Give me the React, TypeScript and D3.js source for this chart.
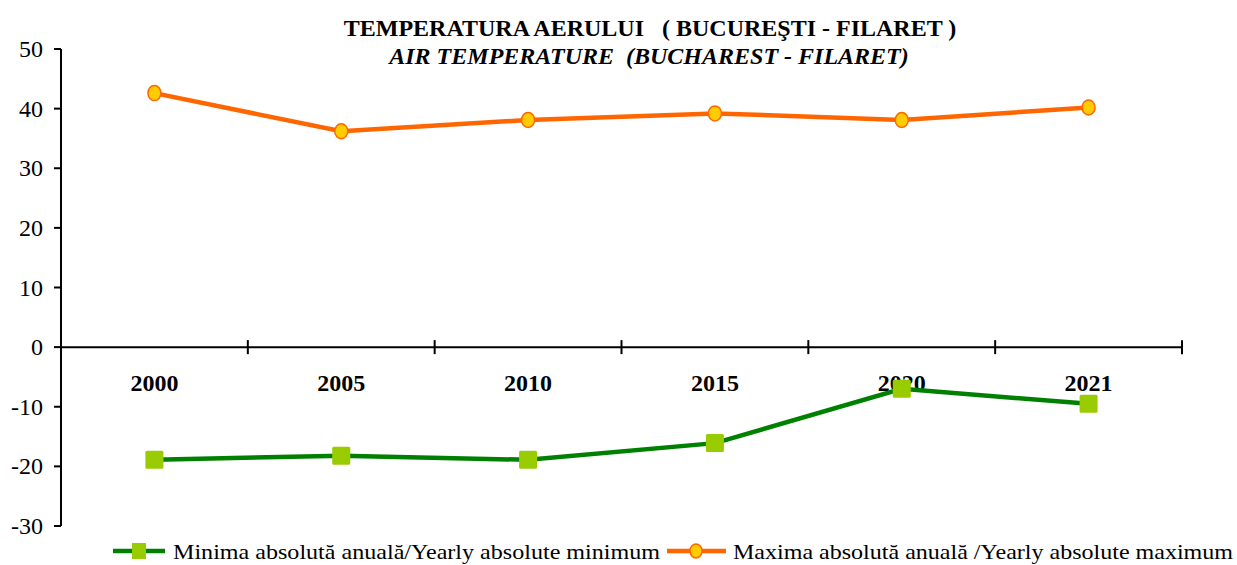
import * as d3 from "d3";
import { useRef, useEffect } from "react";

const years = ["2000", "2005", "2010", "2015", "2020", "2021"];
const minValues = [-18.9, -18.2, -18.9, -16.1, -7.0, -9.5];
const maxValues = [42.6, 36.2, 38.1, 39.2, 38.1, 40.2];
const yTicks = [50, 40, 30, 20, 10, 0, -10, -20, -30];

const titleLine1 = "TEMPERATURA AERULUI   ( BUCUREŞTI - FILARET )";
const titleLine2 = "AIR TEMPERATURE  (BUCHAREST - FILARET)";
const minLabel = "Minima absolută anuală/Yearly absolute minimum";
const maxLabel = "Maxima absolută anuală /Yearly absolute maximum";

export default function App() {
  const width = 1237;
  const height = 565;
  const marginLeft = 61;
  const marginRight = 1182;
  const marginTop = 49;
  const marginBottom = 526;

  const ref = useRef(null);
  useEffect((): void => {
    if (!ref.current) return;
    const svg = d3.select(ref.current);
    svg.selectAll("*").remove();

    const x = d3.scaleBand().domain(years).range([marginLeft, marginRight]);
    const y = d3.scaleLinear().domain([-30, 50]).range([marginBottom, marginTop]);
    const cx = (d: string) => (x(d) as number) + x.bandwidth() / 2;

    const font = '"Liberation Serif", "DejaVu Serif", serif';

    // title
    const title = svg
      .append("g")
      .style("font-family", font)
      .attr("font-size", 24)
      .attr("font-weight", "bold")
      .attr("text-anchor", "middle");
    title.append("text").attr("x", 650).attr("y", 36).style("white-space", "pre").text(titleLine1);
    title.append("text").attr("x", 649).attr("y", 64).attr("font-style", "italic").style("white-space", "pre").text(titleLine2);

    // y axis
    const axisG = svg.append("g").attr("stroke", "#000").attr("stroke-width", 2);
    axisG.append("line").attr("x1", marginLeft).attr("x2", marginLeft).attr("y1", y(50)).attr("y2", y(-30));
    axisG
      .selectAll("line.ytick")
      .data(yTicks)
      .join("line")
      .attr("class", "ytick")
      .attr("x1", marginLeft - 7)
      .attr("x2", marginLeft)
      .attr("y1", (d) => y(d))
      .attr("y2", (d) => y(d));

    svg
      .append("g")
      .style("font-family", font)
      .attr("font-size", 24)
      .attr("text-anchor", "end")
      .selectAll("text")
      .data(yTicks)
      .join("text")
      .attr("x", 43)
      .attr("y", (d) => y(d) + 8)
      .text((d) => d);

    // x axis at zero
    axisG.append("line").attr("x1", marginLeft).attr("x2", marginRight).attr("y1", y(0)).attr("y2", y(0));
    const xTickPos = years.map((d) => (x(d) as number) + x.bandwidth());
    axisG
      .selectAll("line.xtick")
      .data(xTickPos)
      .join("line")
      .attr("class", "xtick")
      .attr("x1", (d) => d)
      .attr("x2", (d) => d)
      .attr("y1", y(0) - 7)
      .attr("y2", y(0) + 7);

    svg
      .append("g")
      .style("font-family", font)
      .attr("font-size", 24)
      .attr("font-weight", "bold")
      .attr("text-anchor", "middle")
      .selectAll("text")
      .data(years)
      .join("text")
      .attr("x", (d) => cx(d))
      .attr("y", 391)
      .text((d) => d);

    const line = d3
      .line<number>()
      .x((_, i) => cx(years[i]))
      .y((d) => y(d));

    // max series
    svg
      .append("path")
      .attr("d", line(maxValues))
      .attr("fill", "none")
      .attr("stroke", "#FF6600")
      .attr("stroke-width", 4.5);
    svg
      .append("g")
      .selectAll("ellipse")
      .data(maxValues)
      .join("ellipse")
      .attr("cx", (_, i) => cx(years[i]))
      .attr("cy", (d) => y(d))
      .attr("rx", 6.5)
      .attr("ry", 7.5)
      .attr("fill", "#FFCC00")
      .attr("stroke", "#FF6600")
      .attr("stroke-width", 1.5);

    // min series
    svg
      .append("path")
      .attr("d", line(minValues))
      .attr("fill", "none")
      .attr("stroke", "#008000")
      .attr("stroke-width", 4.5);
    svg
      .append("g")
      .selectAll("rect")
      .data(minValues)
      .join("rect")
      .attr("x", (_, i) => cx(years[i]) - 9)
      .attr("y", (d) => y(d) - 9)
      .attr("width", 18)
      .attr("height", 18)
      .attr("rx", 1.5)
      .attr("fill", "#99CC00");

    // legend
    const legend = svg.append("g").style("font-family", font).attr("font-size", 21);
    legend.append("line").attr("x1", 113).attr("x2", 165).attr("y1", 551).attr("y2", 551).attr("stroke", "#008000").attr("stroke-width", 4.5);
    legend.append("rect").attr("x", 132).attr("y", 543).attr("width", 14).attr("height", 16).attr("fill", "#99CC00");
    legend
      .append("text")
      .attr("x", 173)
      .attr("y", 559)
      .attr("textLength", 487)
      .attr("lengthAdjust", "spacingAndGlyphs")
      .text(minLabel);

    legend.append("line").attr("x1", 667).attr("x2", 726).attr("y1", 551).attr("y2", 551).attr("stroke", "#FF6600").attr("stroke-width", 4.5);
    legend
      .append("ellipse")
      .attr("cx", 696)
      .attr("cy", 551)
      .attr("rx", 6)
      .attr("ry", 7)
      .attr("fill", "#FFCC00")
      .attr("stroke", "#FF6600")
      .attr("stroke-width", 1.5);
    legend
      .append("text")
      .attr("x", 733)
      .attr("y", 559)
      .attr("textLength", 500)
      .attr("lengthAdjust", "spacingAndGlyphs")
      .text(maxLabel);
  }, []);

  return (
    <svg
      ref={ref}
      width={width}
      height={height}
      style={{ position: "absolute", left: 0, top: 0, background: "#fff" }}
    />
  );
}
